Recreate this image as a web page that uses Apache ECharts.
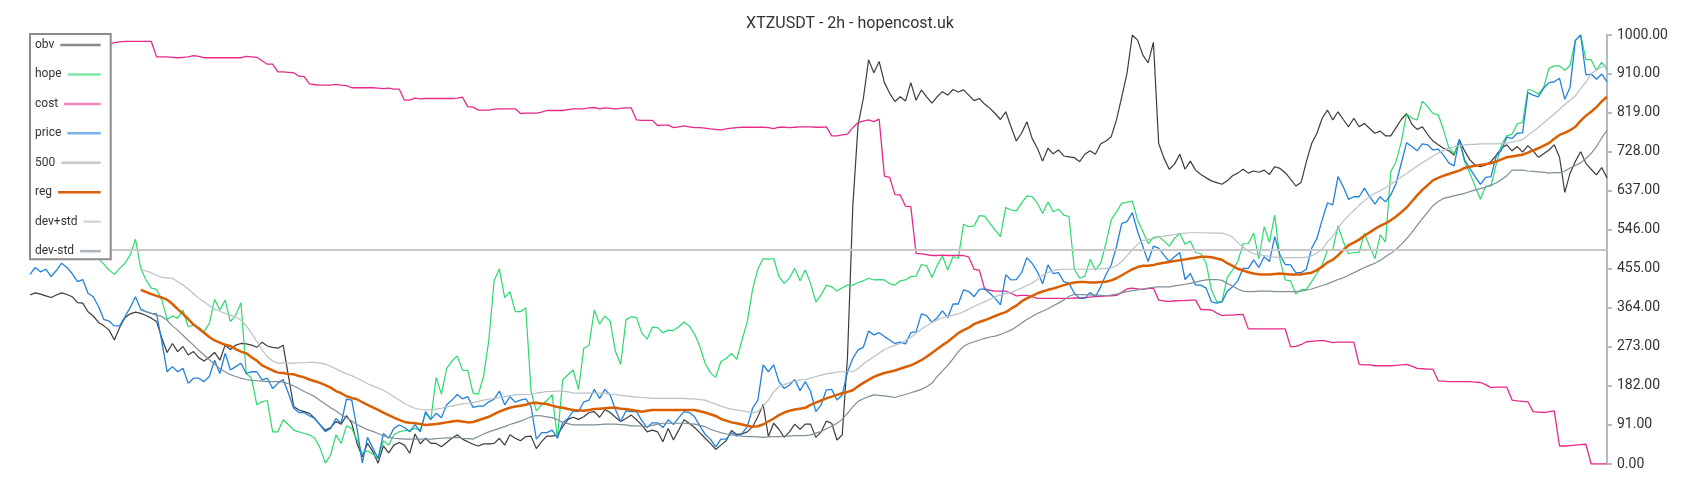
<!DOCTYPE html>
<html>
<head>
<meta charset="utf-8">
<script src="https://cdn.jsdelivr.net/npm/echarts@6/dist/echarts.min.js"></script>
<style>html,body{margin:0;padding:0;background:#fff;}#c{width:1700px;height:500px;}</style>
</head>
<body>
<div id="c"></div>
<script>
const titleText = 'XTZUSDT - 2h - hopencost.uk';
const seriesNames = ['obv','hope','cost','price','500','reg','dev+std','dev-std'];
const level500 = 500;

const obv = [394,399,396,392,388,394,399,395,390,376,
375,355,345,330,322,312,289,318,341,350,
354,351,346,340,332,293,260,281,262,274,
254,262,248,240,249,260,242,277,267,277,
281,280,277,272,284,275,272,270,277,205,
134,126,122,118,106,91,79,85,99,93,
113,95,48,17,48,29,2,42,26,44,
50,44,25,70,47,60,48,48,40,50,
60,68,58,52,46,42,47,47,48,60,
44,68,60,54,64,65,36,52,65,65,
68,87,104,109,104,110,120,122,109,127,
120,109,99,106,114,103,91,75,79,75,
52,83,56,79,103,95,85,73,60,48,
34,44,54,78,69,70,75,87,110,139,
64,95,81,62,75,93,81,93,93,62,
75,100,95,56,68,250,600,790,852,942,
912,938,889,864,845,856,846,889,848,872,
856,841,856,868,860,873,867,872,860,847,
852,839,829,817,803,821,786,753,771,798,
759,736,706,736,723,732,718,716,714,705,
722,730,722,746,753,763,802,856,911,1000,
988,953,935,983,747,713,687,699,722,687,
706,685,675,667,660,656,652,660,672,678,
687,678,683,680,685,675,693,689,679,664,
648,656,705,747,771,806,825,802,821,803,
786,806,786,794,782,771,776,765,765,784,
803,817,792,780,786,768,753,744,736,730,
720,755,730,709,697,693,697,705,720,736,
744,730,740,727,742,730,715,723,732,744,
715,633,678,705,728,701,687,674,691,667];

const hope = [560,555,570,580,575,560,565,570,555,540,
530,515,495,478,466,452,442,456,468,487,
524,456,429,410,407,382,337,345,340,359,
320,324,318,308,328,384,359,382,332,347,
376,211,200,138,145,148,75,75,103,92,
79,75,71,68,60,37,2,21,68,48,
89,83,56,25,31,23,13,54,44,68,
75,78,79,83,79,118,103,202,163,223,
240,252,219,218,165,163,204,289,427,455,
388,402,355,355,364,169,124,138,148,161,
60,196,208,219,174,270,277,359,326,345,
333,262,232,336,343,341,305,291,319,318,
306,312,311,320,331,322,303,274,235,213,
202,239,246,258,244,289,332,407,454,479,
477,479,437,421,434,456,427,452,421,378,
394,417,413,403,411,417,417,423,427,433,
429,430,429,420,417,427,429,437,438,465,
462,435,463,485,452,483,479,559,553,555,
579,578,561,545,530,598,592,590,608,625,
623,608,584,611,588,594,580,577,454,433,
438,477,452,468,514,569,588,608,610,613,
569,542,514,528,530,520,508,526,538,512,
520,493,490,468,406,378,378,435,452,472,
513,514,538,479,553,517,580,476,429,427,
396,406,407,425,444,464,499,499,555,518,
490,493,493,538,507,479,534,517,681,705,
751,816,806,802,846,833,817,814,779,738,
723,753,705,678,647,617,648,648,699,744,
765,769,793,796,873,870,862,878,922,928,
928,918,929,988,1000,943,942,918,936,920];

const cost = [1000,1000,995,995,995,995,990,990,990,990,
990,982,982,982,982,979,982,984,985,985,
985,985,985,985,949,949,949,948,947,948,
949,952,950,947,947,947,947,947,947,947,
947,950,949,948,940,932,932,914,914,913,
912,904,903,886,884,883,883,883,885,883,
882,877,877,877,877,877,876,875,876,874,
874,848,848,853,851,852,852,852,852,852,
852,853,855,833,832,825,825,825,827,828,
828,828,828,817,818,818,818,820,824,824,
824,824,826,828,828,828,830,831,828,830,
829,828,829,830,830,802,801,801,801,789,
790,790,784,786,788,786,784,784,783,781,
780,779,781,783,784,785,785,785,785,785,
784,782,785,785,784,785,786,786,786,785,
785,786,765,765,767,769,784,796,799,802,
798,804,671,668,628,627,601,600,491,490,
488,486,486,487,486,486,486,486,482,454,
452,408,405,403,403,403,398,392,393,393,
390,386,386,386,386,386,386,386,387,387,
388,389,390,391,392,392,393,400,408,410,
408,407,409,410,382,380,379,380,381,381,
382,382,360,360,359,352,346,347,347,348,
349,315,315,315,315,315,315,315,315,273,
274,278,285,286,287,288,286,283,284,284,
284,284,232,231,231,229,229,229,229,230,
231,232,228,223,222,221,221,194,193,192,
192,192,192,192,191,190,185,178,179,179,
179,149,147,146,145,122,121,120,122,124,
42,42,43,44,45,46,0,0,0,0];

const price = [442,458,448,454,437,451,468,458,444,425,
430,398,390,367,337,333,322,322,343,365,
390,361,355,351,350,285,215,227,215,223,
188,200,200,192,204,242,211,258,219,227,
235,211,215,215,196,200,176,188,197,165,
130,120,120,112,106,91,75,83,106,95,
151,149,83,2,62,37,13,71,60,83,
91,85,75,92,75,122,104,118,108,138,
149,162,152,157,132,135,135,145,151,170,
138,157,144,149,152,134,58,73,73,79,
60,96,106,124,122,145,149,174,153,174,
161,127,99,124,122,122,101,85,96,96,
85,103,92,108,122,120,110,89,69,58,
40,58,58,73,65,71,87,130,149,231,
215,231,192,176,184,197,171,192,169,122,
138,173,174,149,161,215,246,266,272,310,
301,306,297,289,281,284,280,306,308,350,
346,330,341,357,341,373,373,406,402,390,
407,408,398,386,371,441,429,430,446,481,
468,448,420,464,444,446,425,421,398,386,
386,400,390,413,441,464,507,561,565,586,
542,507,472,508,503,487,472,483,493,430,
444,417,417,410,378,375,378,402,413,427,
456,456,476,458,483,472,530,487,465,464,
446,446,454,503,526,569,609,604,670,646,
617,623,623,643,623,606,623,611,627,654,
701,749,740,730,746,744,732,734,720,702,
695,757,709,689,670,652,668,670,718,732,
762,759,771,772,866,860,856,876,889,891,
899,850,878,987,1000,907,909,897,909,891];

const reg = [null,null,null,null,null,null,null,null,null,null,
null,null,null,null,null,null,null,null,null,null,
null,406,401,396,392,388,383,373,361,350,
338,325,316,306,296,288,283,278,275,268,
262,258,249,241,230,224,218,213,212,210,
209,205,202,197,193,189,184,178,170,165,
158,154,151,144,138,132,126,120,114,108,
103,98,96,95,93,91,92,93,95,97,
99,101,99,97,98,102,106,110,116,122,
127,131,134,136,138,142,143,141,140,136,
133,131,128,126,125,124,126,128,129,130,
131,131,129,128,126,124,122,124,126,126,
126,126,126,126,126,126,126,123,120,116,
112,105,101,97,95,92,89,87,88,92,
99,106,114,120,124,127,129,131,138,143,
148,153,157,161,165,168,172,181,189,196,
203,208,212,215,218,222,226,230,236,242,
250,259,268,277,285,295,305,312,318,326,
331,335,340,345,350,354,362,369,379,386,
392,398,402,406,409,413,417,420,423,424,
424,423,423,424,425,428,433,440,447,454,
459,462,462,464,467,469,471,473,475,477,
479,481,483,483,482,479,476,468,462,455,
451,447,444,442,442,442,443,444,443,442,
442,442,444,446,452,460,470,476,486,499,
510,516,523,532,540,548,555,561,568,577,
587,598,612,626,639,650,661,667,672,676,
680,684,690,693,695,697,699,701,705,710,
715,717,719,721,726,731,736,742,748,758,
767,772,778,786,800,812,821,832,845,856];

const devPlus = [null,null,null,null,null,null,null,null,null,null,
null,null,null,null,null,null,null,null,null,null,
null,455,450,446,440,435,434,433,425,417,
408,397,386,378,369,361,356,351,347,343,
335,322,305,286,266,250,240,235,235,235,
235,236,236,237,237,235,233,228,222,216,
210,206,200,194,187,182,177,172,165,157,
149,141,135,130,127,126,126,128,130,133,
135,138,140,141,143,146,149,151,153,155,
157,159,161,162,162,162,165,167,169,169,
170,170,168,166,165,165,165,165,165,165,
163,162,160,159,157,156,155,154,153,153,
153,153,153,153,153,152,152,150,149,144,
140,135,131,128,126,124,122,119,122,135,
149,168,180,185,190,193,196,197,200,204,
207,210,212,214,215,215,215,222,233,242,
250,258,267,272,277,281,288,295,305,314,
322,330,336,341,344,347,350,355,361,367,
373,378,384,390,394,397,400,405,410,416,
422,430,440,446,451,453,454,454,454,454,
454,454,455,455,456,457,462,472,485,500,
512,521,523,525,529,531,533,535,537,538,
539,539,539,539,538,538,538,535,529,516,
506,496,490,488,486,484,482,481,481,481,
481,481,482,485,492,501,518,530,550,566,
579,591,603,614,623,631,637,644,652,660,
669,677,686,694,702,710,718,725,731,736,
740,742,744,745,745,746,746,746,746,747,
748,750,753,756,766,775,785,795,806,816,
827,838,848,858,875,890,910,918,926,932];

const devMinus = [null,null,null,null,null,null,null,null,null,null,
null,null,null,null,null,null,null,null,null,null,
null,359,355,351,347,344,335,322,312,300,
288,277,265,254,243,233,222,215,208,204,
200,197,195,194,193,192,192,192,191,187,
182,176,169,163,157,148,140,131,124,115,
108,100,92,86,80,76,71,66,62,60,
59,58,58,58,58,58,58,59,60,61,
61,62,60,59,58,64,70,75,79,83,
87,92,96,100,105,110,113,112,110,108,
103,97,94,91,91,91,91,91,92,93,
93,93,92,91,89,89,88,87,90,93,
95,95,95,95,95,94,93,90,87,81,
77,73,70,68,67,65,64,64,63,62,
63,64,64,65,65,66,66,66,68,72,
76,82,88,95,104,118,133,146,152,157,
161,160,159,157,155,159,162,166,170,174,
180,188,204,217,230,245,262,274,281,285,
289,293,296,298,302,307,312,320,328,337,
344,351,356,362,369,375,382,391,395,395,
395,394,394,393,392,394,396,399,402,404,
406,408,410,412,413,413,413,415,417,419,
421,424,427,429,430,430,428,421,415,408,
403,402,402,403,403,403,402,402,402,402,
402,403,405,408,412,416,420,425,430,434,
440,446,452,458,463,468,475,483,491,500,
512,525,540,556,572,587,602,612,619,622,
625,628,631,635,639,642,645,650,655,663,
672,685,685,685,683,682,681,680,678,679,
679,683,690,696,702,712,724,740,760,778];

const lineColors = ['#3c3c3c','#2bd96e','#e7298a','#2182dc','#c8c8c8','#d95f02','#b9c1c6','#7f8e98'];
const legendColors = ['#8a8a8a','#80e8a8','#ef7fb8','#7ab4ea','#c8c8c8','#d95f02','#d5dadd','#aab4ba'];

const ctx = document.createElement('canvas').getContext('2d');
ctx.font = '12px Roboto';
const rich = { g: { width: 6, height: 2 } };
seriesNames.forEach(function (n, i) {
  const w = ctx.measureText(n).width;
  rich['k' + i] = { width: Math.max(8, 59.7 - w), height: 2.5, backgroundColor: legendColors[i], verticalAlign: 'middle' };
});

function line(i, data, width) {
  return {
    name: seriesNames[i], type: 'line', data: data, showSymbol: false, symbol: 'none',
    lineStyle: { color: lineColors[i], width: width }, itemStyle: { color: lineColors[i] },
    animation: false, silent: true
  };
}

const chart = echarts.init(document.getElementById('c'), null, { renderer: 'canvas' });
chart.setOption({
  backgroundColor: '#fff',
  animation: false,
  title: { text: titleText, left: 'center', top: 11, textStyle: { fontFamily: 'Roboto', fontSize: 16, fontWeight: 'normal', color: '#333' } },
  legend: {
    orient: 'vertical', left: 30, top: 34, z: 10, padding: [4, 10, 1, 0], itemGap: 15.45,
    itemWidth: 0, itemHeight: 14, icon: 'none',
    backgroundColor: '#fff', borderColor: '#8a8a8a', borderWidth: 2,
    textStyle: { fontFamily: 'Roboto', fontSize: 12, color: '#333', lineHeight: 14, rich: rich },
    formatter: function (n) { return n + '{g|}{k' + seriesNames.indexOf(n) + '|}'; },
    data: seriesNames
  },
  grid: { left: 30, right: 93, top: 35, bottom: 36 },
  xAxis: { type: 'category', boundaryGap: false, show: false },
  yAxis: {
    type: 'value', position: 'right', min: 0, max: 1000, interval: 91,
    axisLine: { show: true, lineStyle: { color: '#b4bcc2', width: 2 } },
    axisTick: { show: true, length: 5, lineStyle: { color: '#b4bcc2', width: 2 } },
    splitLine: { show: false },
    axisLabel: { formatter: function (v) { return v.toFixed(2); }, fontFamily: 'Roboto', fontSize: 14, color: '#333', margin: 10 }
  },
  series: [
    line(0, obv, 1.2),
    line(1, hope, 1.2),
    line(2, cost, 1.3),
    line(3, price, 1.3),
    {
      name: '500', type: 'line', data: [], itemStyle: { color: lineColors[4] }, lineStyle: { color: lineColors[4] },
      markLine: { silent: true, symbol: 'none', animation: false, label: { show: false },
        lineStyle: { color: lineColors[4], width: 2, type: 'solid' }, data: [{ yAxis: level500 }] }
    },
    line(5, reg, 2.5),
    line(6, devPlus, 1.2),
    line(7, devMinus, 1.2)
  ]
});
</script>
</body>
</html>
